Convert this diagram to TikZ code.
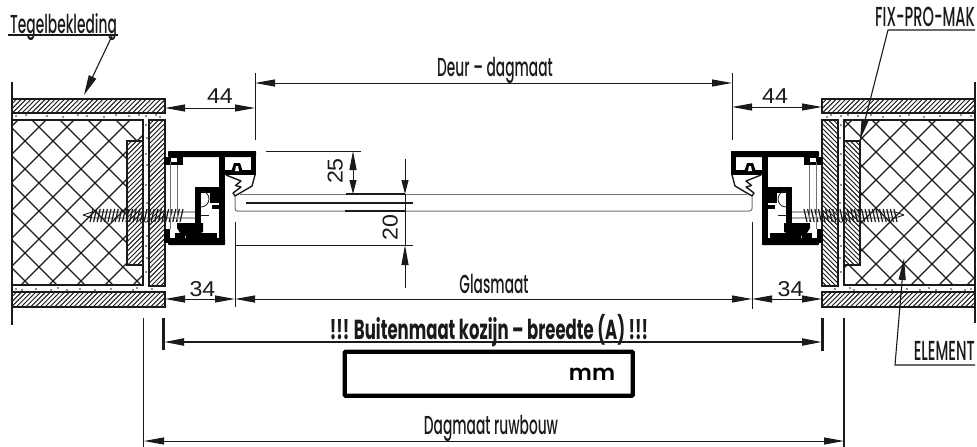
\documentclass[tikz,border=0pt]{standalone}
\usepackage{fontspec}
\usetikzlibrary{arrows.meta}
\setmainfont{Poppins}
\newfontfamily\labfont[FakeStretch=0.53]{Poppins Medium}
\newfontfamily\boldlab[FakeStretch=0.6]{Poppins Bold}
\newfontfamily\mmfont{Poppins SemiBold}
\newfontfamily\numfont[FakeStretch=1.08]{Liberation Sans}
\definecolor{ink}{HTML}{1A1A1A}
\definecolor{glassgrey}{HTML}{6E7274}
\tikzset{
  lab/.style={font=\labfont\fontsize{26}{26}\selectfont,text=ink,inner sep=0pt,anchor=base},
  capslab/.style={font=\labfont\fontsize{27.5}{27.5}\selectfont,text=ink,inner sep=0pt},
  num/.style={font=\numfont\fontsize{21.5}{21.5}\selectfont,text=ink,inner sep=0pt,anchor=base},
  thinl/.style={draw=ink,line width=1pt},
  dim/.style={draw=ink,line width=1pt,{Triangle[length=20pt,width=7pt]}-{Triangle[length=20pt,width=7pt]}},
  dimone/.style={draw=ink,line width=1pt,-{Triangle[length=20pt,width=7pt]}},
  leader/.style={draw=ink,line width=1.1pt},
  hatchline/.style={draw=ink,line width=.95pt},
  hatchframe/.style={draw=ink,line width=1.2pt},
  cross/.style={draw=ink,line width=1.3pt},
}
% hatched rectangle: corners x1,y1,x2,y2 and direction +1 or -1 of the strokes
\newcommand{\hatchbox}[5]{
  \fill[white] (#1,#2) rectangle (#3,#4);
  \begin{scope}
    \clip (#1,#2) rectangle (#3,#4);
    \pgfmathtruncatemacro{\nhatch}{(#3-#1+#4-#2)/4.8+1}
    \foreach \k in {0,...,\nhatch}{
      \ifnum#5>0
        \draw[hatchline] (#1+4.8*\k,#2) -- (#1+4.8*\k-#4+#2,#4);
      \else
        \draw[hatchline] (#3-4.8*\k,#2) -- (#3-4.8*\k+#4-#2,#4);
      \fi
    }
  \end{scope}
  \draw[hatchframe] (#1,#2) rectangle (#3,#4);
}
% #1: offset of the x+y lines, #2: offset of the x-y lines, #3: direction of the bands, #4: direction of the strips
\newcommand{\wallside}[4]{
  % cross-hatched core
  \begin{scope}
    \clip (12,120) rectangle (143,285);
    \foreach \k in {-12,...,18}{
      \draw[cross] (#1+28*\k,100) -- (#1+28*\k-300,400);
      \draw[cross] (#2+28*\k,100) -- (#2+28*\k+300,400);
    }
  \end{scope}
  \draw[line width=1.2pt,draw=ink] (12,120) -- (143,120) -- (143,285) -- (12,285);
  % tile bands
  \hatchbox{12}{99}{165}{113}{#3}
  \hatchbox{12}{292}{165}{307}{#3}
  % vertical hatchings
  \hatchbox{127}{141}{143}{265}{#4}
  \hatchbox{149}{120}{165}{286}{#4}
  % speckle of the mortar
  \foreach \p in {(16,116),(26,115),(47,116),(63,117),(78,115),(87,116),(104,117),(116,115),(129,116),(139,115),(146,116),(156,115),(160,117),
                  (16,289),(22,290),(36,289),(51,290),(58,288),(67,290),(80,289),(95,290),(111,289),(133,290),(137,288),(152,289),
                  (146,125),(147,138),(146,154),(147,165),(146,185),(147,203),(146,222),(147,236),(146,246),(147,258),(146,272)}
    \fill[ink] \p circle (.8pt);
  % screw
  \draw[line width=.9pt,draw=ink] (83,215) -- (92,212) -- (201,212);
  \draw[line width=.9pt,draw=ink] (83,215) -- (92,218) -- (201,218);
  \foreach \k in {0,...,25}
    \draw[line width=1.2pt,draw=ink] (90+3.6*\k,222) -- (93+3.6*\k,209);
  % profile
  \begin{scope}[fill=black]
    \fill[rounded corners=.8pt] (168,151) rectangle (256,157);
    \fill (251,151) rectangle (256,175);
    \fill (225,170) rectangle (256,175);
    \fill (219,151) rectangle (225,245);
    \fill (164,157) rectangle (183,165);
    \fill (195,187) rectangle (225,193);
    \fill (195,187) rectangle (201,228);
    \fill (210,193) rectangle (219,203);
    \fill (212,205) rectangle (219,209);
    \fill[rounded corners=.8pt] (168,238) rectangle (225,245);
    \fill (164,229) rectangle (170,243);
    \fill (177,223) -- (203,223) -- (203,232) -- (195,235) -- (193,238) -- (186,238) -- (185,234) -- (180,233) -- (177,228) -- cycle;
    \fill (175,233) rectangle (185,238);
    \fill (193,233) rectangle (217,238);
  \end{scope}
  \fill[white] (171,158) rectangle (177,162);
  \draw[draw=glassgrey,line width=.8pt] (170.5,162) -- (170.5,229);
  \draw[draw=glassgrey,line width=.8pt] (177.5,165) -- (177.5,222);
  \fill[black] (231,172) -- (234,163) -- (240,163) -- (243,172) -- cycle;
  \fill[white] (235,171) -- (236,166) -- (238,166) -- (239,171) -- cycle;
  \draw[draw=ink,line width=1.4pt,fill=white,line join=round] (226,175) -- (241,181) -- (235.5,185.5) -- (241,187) -- (233,193) -- (235,196) -- (252,186) -- (255,175);
  % hinge circle
  \draw[draw=ink,line width=.8pt] (201,207) arc (90:-90:8);
  \draw[draw=ink,line width=.8pt] (201,215) -- (209,215);
}
\begin{document}
\begin{tikzpicture}[x=1pt,y=-1pt]
\useasboundingbox (0,0) rectangle (977,447);
\wallside{10}{12}{1}{1}
\begin{scope}[xshift=987pt,xscale=-1]
\wallside{23}{3}{-1}{1}
\end{scope}

% glass
\draw[draw=glassgrey,line width=1pt,rounded corners=2.5pt] (235,196) -- (235,211) -- (752,211) -- (752,196);
\draw[draw=glassgrey,line width=1pt] (240,194) -- (747,194);

% wall edge lines
\coordinate (wl1) at (12,82); \coordinate (wl2) at (12,325);
\coordinate (wr1) at (975,82); \coordinate (wr2) at (975,323);
\draw[thinl,line width=1.3pt] (wl1) -- (wl2);
\draw[thinl,line width=1.3pt] (wr1) -- (wr2);

% upper dimensions
\coordinate (dl) at (255,83); \coordinate (dr) at (732,83);
\coordinate (el1) at (255,73); \coordinate (el2) at (255,140);
\coordinate (er1) at (732,73); \coordinate (er2) at (732,140);
\draw[thinl] (el1) -- (el2);
\draw[thinl] (er1) -- (er2);
\draw[dim] (dl) -- (dr);
\coordinate (a1) at (165,108); \coordinate (a2) at (255,108);
\coordinate (a3) at (732,107); \coordinate (a4) at (822,107);
\draw[dim] (a1) -- (a2);
\draw[dim] (a3) -- (a4);
\node[lab] (deur) at (495,76) {Deur – dagmaat};
\node[num] (n44l) at (220,103.5) {44};
\node[num] (n44r) at (775,103) {44};

% lower dimensions
\coordinate (gl1) at (235,222); \coordinate (gl2) at (235,307);
\coordinate (gr1) at (752,222); \coordinate (gr2) at (752,309);
\draw[thinl] (gl1) -- (gl2);
\draw[thinl] (gr1) -- (gr2);
\coordinate (b0) at (165,299); \coordinate (b1) at (235,299); \coordinate (b2) at (752,299); \coordinate (b3) at (822,299);
\draw[dim] (b0) -- (b1);
\draw[dim] (b1) -- (b2);
\draw[dim] (b2) -- (b3);
\node[lab] (glas) at (494,293) {Glasmaat};
\node[num] (n34l) at (202.5,296.5) {34};
\node[num] (n34r) at (790.5,296) {34};

% glass dimensions
\coordinate (h1a) at (266,151); \coordinate (h1b) at (361,151);
\coordinate (h2a) at (346,194); \coordinate (h2b) at (405,194);
\coordinate (h3a) at (246,203); \coordinate (h3b) at (413,203);
\coordinate (h4a) at (345,211); \coordinate (h4b) at (405,211);
\coordinate (h5a) at (235,245); \coordinate (h5b) at (413,245);
\draw[thinl] (h1a) -- (h1b);
\draw[thinl,line width=1.1pt] (h2a) -- (h2b);
\draw[thinl,line width=1.1pt] (h3a) -- (h3b);
\draw[thinl,line width=1.1pt] (h4a) -- (h4b);
\draw[thinl] (h5a) -- (h5b);
\coordinate (v25a) at (353,151); \coordinate (v25b) at (353,194);
\draw[draw=ink,line width=1pt,{Triangle[length=19pt,width=7pt]}-{Triangle[length=14pt,width=7pt]}] (v25a) -- (v25b);
\coordinate (v20a) at (405,159); \coordinate (v20b) at (405,194);
\coordinate (v20c) at (405,288); \coordinate (v20d) at (405,245);
\draw[dimone,-{Triangle[length=14pt,width=7pt]}] (v20a) -- (v20b);
\draw[thinl] (405,194) -- (405,245);
\draw[dimone] (v20c) -- (v20d);
\node[num,rotate=90] (n25) at (342.5,171) {25};
\node[num,rotate=90] (n20) at (397.5,227.5) {20};

% outer dimension
\coordinate (t1a) at (163.5,318); \coordinate (t1b) at (163.5,350);
\coordinate (t2a) at (822.5,318); \coordinate (t2b) at (822.5,351);
\draw[draw=ink,line width=2.4pt] (t1a) -- (t1b);
\draw[draw=ink,line width=2.4pt] (t2a) -- (t2b);
\coordinate (o1) at (164,342); \coordinate (o2) at (822,342);
\draw[draw=ink,line width=2pt,{Triangle[length=20pt,width=7pt]}-{Triangle[length=20pt,width=7pt]}] (o1) -- (o2);
\node[lab,font=\boldlab\fontsize{27.5}{27.5}\selectfont] (buit) at (489,339) {!!! Buitenmaat kozijn – breedte (A) !!!};
\node[draw=black,line width=4.4pt,rounded corners=1pt,minimum width=288pt,minimum height=44pt,inner sep=0pt,anchor=north west] (mmbox) at (342.5,349.5) {};
\node[font=\mmfont\fontsize{22}{22}\selectfont,text=black,inner sep=0pt,anchor=base] (mm) at (592,380) {mm};

% opening
\coordinate (ru1) at (143.5,318); \coordinate (ru2) at (143.5,447);
\coordinate (ru3) at (844,318); \coordinate (ru4) at (844,447);
\draw[thinl,line width=1.1pt] (ru1) -- (ru2);
\draw[thinl,line width=1.1pt] (ru3) -- (ru4);
\coordinate (ra) at (144,441); \coordinate (rb) at (844,441);
\draw[dim] (ra) -- (rb);
\node[lab] (dagr) at (491,434) {Dagmaat ruwbouw};

% leaders
\node[lab,anchor=base west] (teg) at (10,33) {Tegelbekleding};
\coordinate (tu1) at (8,35); \coordinate (tu2) at (118,35); \coordinate (tu3) at (112,36); \coordinate (tt) at (84,95);
\draw[leader] (tu1) -- (tu2);
\draw[leader,-{Triangle[length=20pt,width=8pt]}] (tu3) -- (tt);
\node[capslab,anchor=base east] (fix) at (975,27) {FIX-PRO-MAK};
\coordinate (fu1) at (975,30); \coordinate (fu2) at (888,30); \coordinate (ft) at (860,140);
\draw[leader,-{Triangle[length=21pt,width=7pt]}] (fu1) -- (fu2) -- (ft);
\node[capslab,anchor=base east] (elem) at (975,360) {ELEMENT};
\coordinate (eu1) at (975,365); \coordinate (eu2) at (895,365); \coordinate (et) at (904,258);
\draw[leader,-{Triangle[length=22pt,width=7pt]}] (eu1) -- (eu2) -- (et);
\end{tikzpicture}
\end{document}
